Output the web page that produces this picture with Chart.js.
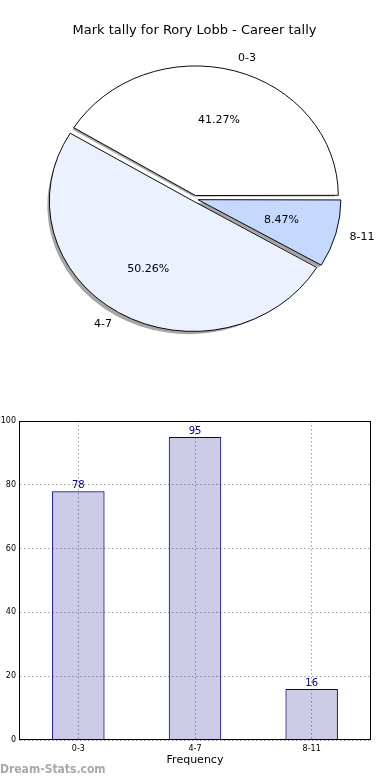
<!DOCTYPE html>
<html>
<head>
<meta charset="utf-8">
<script src="https://cdn.jsdelivr.net/npm/chart.js@4.4.1/dist/chart.umd.min.js"></script>
<style>
body { margin: 0; background: #fff; }
#wrap { position: relative; width: 390px; height: 780px; overflow: hidden; }
#pieChart { position: absolute; left: 0; top: 0; }
#barChart { position: absolute; left: 0; top: 400px; }
#mark { position: absolute; left: 0; top: 762px; font-family: "DejaVu Sans Condensed", "DejaVu Sans", sans-serif; font-weight: bold; font-size: 12px; color: #a8a8a8; }
</style>
</head>
<body>
<div id="wrap">
<canvas id="pieChart" width="390" height="400"></canvas>
<canvas id="barChart" width="390" height="380"></canvas>
<div id="mark">Dream-Stats.com</div>
</div>
<script>
// data
const categories = ['0-3', '4-7', '8-11'];
const counts = [78, 95, 16];
const pieTitle = 'Mark tally for Rory Lobb - Career tally';
const xTitle = 'Frequency';
const yMax = 100;
const yStep = 20;

Chart.defaults.font.family = 'DejaVu Sans';
Chart.defaults.color = '#000';

const total = counts.reduce((a, b) => a + b, 0);
const pieColors = ['#ffffff', '#ebf1fe', '#c5d9fe'];
const EXPLODE = 5.5;     // px each wedge is pulled out
const SQUASH = 128 / 141; // pie is drawn as an ellipse

// chart.js moves an arc by offset/4*(1+fix), undo that so every wedge moves the same
function arcShift(offset, circ) {
    const fix = 1 - Math.sin(Math.min(Math.PI, circ));
    return offset / 4 * (1 + fix);
}
const pieOffsets = counts.map(v => {
    const circ = v / total * Math.PI * 2;
    const fix = 1 - Math.sin(Math.min(Math.PI, circ));
    return EXPLODE * 4 / (1 + fix);
});

function pieTransform(ctx, arc) {
    ctx.translate(arc.x, arc.y);
    ctx.scale(1, -SQUASH); // flip so wedges run counter clockwise
    ctx.translate(-arc.x, -arc.y);
}

const piePlugin = {
    id: 'piePlugin',
    beforeDatasetsDraw(chart) {
        const arcs = chart.getDatasetMeta(0).data;
        const ctx = chart.ctx;
        // shadows under all wedges
        ctx.save();
        ctx.translate(-2.8, 2.6);
        pieTransform(ctx, arcs[0]);
        ctx.fillStyle = 'rgba(77,77,77,0.5)';
        arcs.forEach((arc, i) => {
            const m = (arc.startAngle + arc.endAngle) / 2;
            const d = arcShift(pieOffsets[i], arc.endAngle - arc.startAngle);
            const cx = arc.x + Math.cos(m) * d, cy = arc.y + Math.sin(m) * d;
            ctx.beginPath();
            ctx.moveTo(cx, cy);
            ctx.arc(cx, cy, arc.outerRadius + 0.5, arc.startAngle, arc.endAngle);
            ctx.closePath();
            ctx.fill();
        });
        ctx.restore();
        ctx.save();
        pieTransform(ctx, arcs[0]);
    },
    afterDatasetsDraw(chart) {
        const ctx = chart.ctx;
        ctx.restore();
        const arcs = chart.getDatasetMeta(0).data;
        ctx.save();
        ctx.font = '11px "DejaVu Sans"';
        ctx.fillStyle = '#000';
        ctx.textBaseline = 'middle';
        arcs.forEach((arc, i) => {
            const m = (arc.startAngle + arc.endAngle) / 2;
            const d = arcShift(pieOffsets[i], arc.endAngle - arc.startAngle);
            const r = arc.outerRadius;
            const c = Math.cos(m), s = Math.sin(m);
            // category label
            let t = d + 1.1 * r;
            ctx.textAlign = c > 0 ? 'left' : 'right';
            ctx.fillText(categories[i], arc.x + c * t, arc.y - SQUASH * s * t);
            // percentage
            t = d + 0.6 * r;
            ctx.textAlign = 'center';
            ctx.fillText((counts[i] / total * 100).toFixed(2) + '%', arc.x + c * t, arc.y - SQUASH * s * t);
        });
        ctx.restore();
    }
};

new Chart(document.getElementById('pieChart'), {
    type: 'pie',
    data: {
        labels: categories,
        datasets: [{
            data: counts,
            backgroundColor: pieColors,
            borderColor: '#000',
            borderWidth: 1,
            offset: pieOffsets,
            radius: 141,
            clip: false
        }]
    },
    options: {
        responsive: false,
        animation: false,
        rotation: 90,
        layout: { padding: { left: 0, right: 1, top: 0, bottom: 41 } },
        plugins: {
            legend: { display: false },
            tooltip: { enabled: false },
            title: {
                display: true,
                text: pieTitle,
                color: '#000',
                font: { size: 13, weight: 'normal', family: 'DejaVu Sans' },
                padding: { top: 23, bottom: 0 }
            }
        }
    },
    plugins: [piePlugin]
});

// bar chart: frame on all four sides and counts above bars
const barPlugin = {
    id: 'barPlugin',
    afterDatasetsDraw(chart) {
        const ctx = chart.ctx;
        const a = chart.chartArea;
        ctx.save();
        ctx.strokeStyle = '#000';
        ctx.lineWidth = 1;
        ctx.strokeRect(Math.round(a.left) - 0.5, Math.round(a.top) + 0.5, Math.round(a.right - a.left) + 1, Math.round(a.bottom - a.top) - 1);
        ctx.font = '10px "DejaVu Sans"';
        ctx.fillStyle = '#000080';
        ctx.textAlign = 'center';
        ctx.textBaseline = 'bottom';
        chart.getDatasetMeta(0).data.forEach((bar, i) => {
            ctx.fillText(counts[i], bar.x, bar.y - 1);
        });
        ctx.restore();
    }
};

new Chart(document.getElementById('barChart'), {
    type: 'bar',
    data: {
        labels: categories,
        datasets: [{
            data: counts,
            backgroundColor: 'rgba(0,0,128,0.2)',
            borderColor: '#000080',
            borderWidth: 1,
            barPercentage: 0.45,
            categoryPercentage: 1
        }]
    },
    options: {
        responsive: false,
        animation: false,
        layout: { padding: { left: 0, right: 20, top: 21, bottom: 0 } },
        plugins: {
            legend: { display: false },
            tooltip: { enabled: false }
        },
        scales: {
            x: {
                afterFit(scale) { scale.height = 40; },
                grid: { offset: false, color: '#a0a0a0', lineWidth: 1, drawTicks: false },
                border: { display: false, dash: [1.5, 2.5] },
                ticks: { font: { size: 8 }, color: '#000', padding: 4, maxRotation: 0 },
                title: {
                    display: true,
                    text: xTitle,
                    color: '#000',
                    font: { size: 11 },
                    padding: { top: 0, bottom: 13 }
                }
            },
            y: {
                min: 0,
                max: yMax,
                afterFit(scale) { scale.width = 20; },
                grid: { color: '#a0a0a0', lineWidth: 1, drawTicks: false },
                border: { display: false, dash: [1.5, 2.5] },
                ticks: { stepSize: yStep, font: { size: 8 }, color: '#000', padding: 4 }
            }
        }
    },
    plugins: [barPlugin]
});
</script>
</body>
</html>
